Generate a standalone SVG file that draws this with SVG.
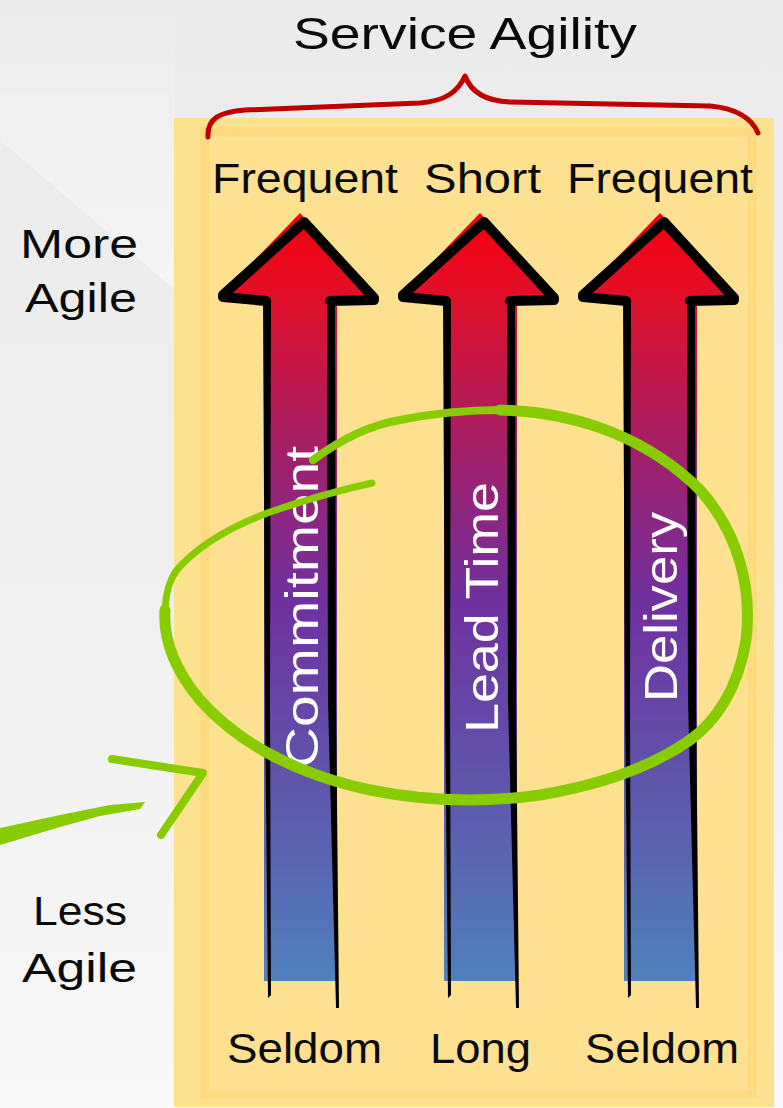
<svg xmlns="http://www.w3.org/2000/svg" width="783" height="1108" viewBox="0 0 783 1108">
  <defs>
    <linearGradient id="bg" x1="0" y1="0" x2="0" y2="1">
      <stop offset="0" stop-color="#ebebeb"/>
      <stop offset="0.5" stop-color="#efefef"/>
      <stop offset="1" stop-color="#f8f8f8"/>
    </linearGradient>
    <linearGradient id="sheen" x1="0" y1="0" x2="0" y2="1">
      <stop offset="0" stop-color="#ffffff" stop-opacity="0"/>
      <stop offset="0.6" stop-color="#ffffff" stop-opacity="0.35"/>
      <stop offset="1" stop-color="#ffffff" stop-opacity="0.45"/>
    </linearGradient>
    <linearGradient id="shaft" gradientUnits="userSpaceOnUse" x1="0" y1="215" x2="0" y2="981">
      <stop offset="0" stop-color="#f8000c"/>
      <stop offset="0.11" stop-color="#e0102a"/>
      <stop offset="0.29" stop-color="#a81e64"/>
      <stop offset="0.5" stop-color="#7030a0"/>
      <stop offset="0.76" stop-color="#5e58ac"/>
      <stop offset="1" stop-color="#4f81bd"/>
    </linearGradient>
    <style>
      .hand { font-family: "Liberation Sans", "DejaVu Sans", sans-serif; fill: #0a0a0a; }
      .label { font-size: 42px; }
      .side { font-size: 40px; }
      .vert { font-family: "Liberation Sans", "DejaVu Sans", sans-serif; font-size: 46px; fill: #ffffff; }
      .ink { fill: #000000; }
      .outline { fill: none; stroke: #000000; stroke-width: 10; stroke-linejoin: round; stroke-linecap: round; }
      .green { fill: none; stroke: #88cc00; stroke-linecap: round; stroke-linejoin: round; }
    </style>
  </defs>

  <g id="background">
    <rect x="0" y="0" width="783" height="1108" fill="url(#bg)"/>
    <polygon points="0,0 175,0 175,290 0,140" fill="url(#sheen)"/>
  </g>

  <g id="panel">
    <rect x="174" y="118" width="600" height="989" fill="#fce18f"/>
    <rect x="205" y="132" width="547" height="962" fill="#fde190" stroke="#fcda80" stroke-width="9"/>
  </g>

  <g id="brace">
    <path d="M208,137 C207,118 220,112 245,110 L420,103 C445,101 458,92 465,76 C471,92 485,101 510,102 L710,106 C735,108 752,118 758,133" fill="none" stroke="#c00000" stroke-width="5" stroke-linecap="round" stroke-linejoin="round"/>
  </g>

  <g id="title">
    <text class="hand" x="293" y="49" font-size="44" textLength="344" lengthAdjust="spacingAndGlyphs">Service Agility</text>
  </g>

  <g id="side-labels">
    <text class="hand side" x="20" y="258" textLength="118" lengthAdjust="spacingAndGlyphs">More</text>
    <text class="hand side" x="25" y="312" textLength="112" lengthAdjust="spacingAndGlyphs">Agile</text>
    <text class="hand side" x="33" y="925" textLength="94" lengthAdjust="spacingAndGlyphs">Less</text>
    <text class="hand side" x="22" y="982" textLength="115" lengthAdjust="spacingAndGlyphs">Agile</text>
  </g>

  <g id="top-labels">
    <text class="hand label" x="212" y="193" textLength="186" lengthAdjust="spacingAndGlyphs">Frequent</text>
    <text class="hand label" x="424" y="193" textLength="117" lengthAdjust="spacingAndGlyphs">Short</text>
    <text class="hand label" x="567" y="193" textLength="186" lengthAdjust="spacingAndGlyphs">Frequent</text>
  </g>

  <g id="bottom-labels">
    <text class="hand label" x="227" y="1063" textLength="155" lengthAdjust="spacingAndGlyphs">Seldom</text>
    <text class="hand label" x="430" y="1063" textLength="101" lengthAdjust="spacingAndGlyphs">Long</text>
    <text class="hand label" x="585" y="1063" textLength="154" lengthAdjust="spacingAndGlyphs">Seldom</text>
  </g>

  <g id="arrow-commitment">
    <polygon points="300,213 220,296 264,300 264,981 337,981 337,300 378,300" fill="url(#shaft)"/>
    <path class="outline" d="M223,295 L304,222 L374,298 M223,297 L266,301 M330,301 L374,300"/>
    <polygon class="ink" points="263,300 271,300 270,700 271,995 268,998 265,700"/>
    <polygon class="ink" points="327,300 335,300 336,700 339,1008 336,1008 328,700"/>
    <text class="vert" transform="translate(318,768) rotate(-90)" textLength="322" lengthAdjust="spacingAndGlyphs">Commitment</text>
  </g>

  <g id="arrow-leadtime">
    <polygon points="480,213 400,296 444,300 444,981 517,981 517,300 558,300" fill="url(#shaft)"/>
    <path class="outline" d="M403,295 L484,222 L554,298 M403,297 L446,301 M510,301 L554,300"/>
    <polygon class="ink" points="443,300 451,300 450,700 451,995 448,998 445,700"/>
    <polygon class="ink" points="507,300 515,300 516,700 519,1008 516,1008 508,700"/>
    <text class="vert" transform="translate(498,733) rotate(-90)" textLength="251" lengthAdjust="spacingAndGlyphs">Lead Time</text>
  </g>

  <g id="arrow-delivery">
    <polygon points="660,213 580,296 624,300 624,981 697,981 697,300 738,300" fill="url(#shaft)"/>
    <path class="outline" d="M583,295 L664,222 L734,298 M583,297 L626,301 M690,301 L734,300"/>
    <polygon class="ink" points="623,300 631,300 630,700 631,995 628,998 625,700"/>
    <polygon class="ink" points="687,300 695,300 696,700 699,1008 696,1008 688,700"/>
    <text class="vert" transform="translate(677,702) rotate(-90)" textLength="190" lengthAdjust="spacingAndGlyphs">Delivery</text>
  </g>

  <g id="connectors">
    <path class="green" stroke-width="8" d="M313,460 C340,440 370,425 400,420 C440,412 470,410 500,410"/>
    <path class="green" stroke-width="11" d="M500,410 C580,412 650,440 700,490 C740,535 752,590 746,640 C738,690 715,722 690,740 C650,768 600,785 540,795 C490,802 430,802 370,790 C300,775 240,745 200,700 C175,670 163,640 165,610"/>
    <path class="green" stroke-width="7" d="M165,610 C166,590 170,580 176,571 C198,545 235,525 270,512 C305,500 340,490 372,483"/>
    <polygon points="0,828 60,815 110,805 145,802 140,809 100,816 60,827 0,845" fill="#88cc00"/>
    <path class="green" stroke-width="8" d="M112,759 L203,773 L161,835"/>
  </g>
</svg>
